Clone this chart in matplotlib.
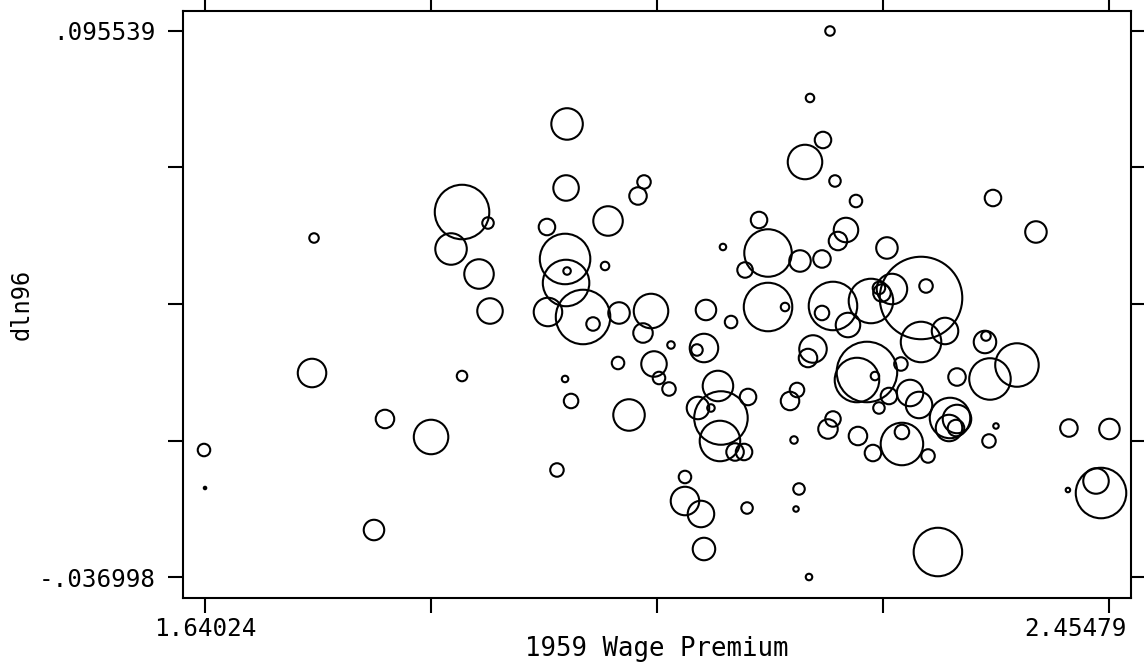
import numpy as np
import matplotlib
matplotlib.use('Agg')
import matplotlib.pyplot as plt
import matplotlib.transforms as mtransforms

# 1959 wage premium vs dln96, circles weighted by size
wage59 = [1.6393, 1.64024, 1.7384, 1.7366, 1.8023, 1.7924, 1.8438, 1.8717, 1.8951, 1.8618,
          1.8870, 1.8969, 1.8717, 1.9663, 1.9654, 2.0356, 2.0302, 2.0032, 1.9482, 1.9645,
          1.9663, 2.0005, 1.9654, 1.9491, 1.9807, 1.9897, 2.0131, 2.0419, 2.0347, 2.0122,
          2.0446, 2.0491, 1.9645, 1.9699, 2.0221, 1.9572, 2.2031, 2.1851, 2.1968, 2.1806,
          2.2076, 2.2265, 2.1392, 2.2175, 2.2103, 2.2544, 2.1067, 2.1473, 2.1266, 2.1761,
          2.1959, 2.2851, 2.2896, 2.2589, 2.3499, 2.3886, 2.0914, 2.1473, 2.1626, 2.2058,
          2.1959, 2.2400, 2.2472, 2.2499, 2.1140, 2.2193, 2.0599, 2.0896, 2.0833, 2.0581,
          2.1878, 2.1833, 2.2436, 2.2562, 2.2472, 2.1022, 2.1293, 2.0842, 2.0959, 2.1049,
          2.1040, 2.1176, 2.1257, 2.1734, 2.1671, 2.1707, 2.0725, 2.0725, 2.0869, 2.0896,
          2.1284, 2.1752, 2.1725, 2.1842, 2.2013, 2.2058, 2.2283, 2.2418, 2.2851, 2.3067,
          2.3427, 2.3436, 2.3715, 2.3472, 2.3175, 2.2670, 2.2752, 2.2833, 2.3112, 2.3175,
          2.3103, 2.3166, 2.2679, 2.2679, 2.2914, 2.3526, 2.3463, 2.4183, 2.45479, 2.4174,
          2.4427, 2.4472, 2.3003, 2.2364, 2.2274]
dln96 = [-0.00617, -0.01539, 0.04529, 0.01252, 0.00136, -0.02559, -0.00301, 0.05160, 0.04893, 0.04262,
         0.03655, 0.02757, 0.01179, 0.07297, 0.05743, 0.05889, 0.05549, 0.04942, 0.04796, 0.04020,
         0.03728, 0.03850, 0.03437, 0.02733, 0.02612, 0.02442, 0.02709, 0.02757, 0.02223, 0.01495,
         0.01471, 0.01131, 0.01107, 0.00573, 0.00233, -0.01102, 0.095539, 0.07928, 0.06908, 0.06374,
         0.05913, 0.05427, 0.04966, 0.04723, 0.04456, 0.04287, 0.04311, 0.04165, 0.03753, 0.03971,
         0.04020, 0.03073, 0.03364, 0.03291, 0.05500, 0.04675, 0.02782, 0.02854, 0.02854, 0.02879,
         0.02709, 0.03000, 0.03316, 0.03194, 0.02490, 0.02417, 0.01932, 0.01859, 0.01811, 0.00864,
         0.01835, 0.01616, 0.01179, 0.00694, 0.00403, 0.00937, 0.00670, 0.00403, 0.00403, 0.00160,
         -0.00398, -0.00665, -0.00665, 0.00840, 0.00573, -0.00374, -0.01272, -0.01855, -0.02170, -0.03020,
         -0.02025, -0.01563, -0.02049, -0.036998, -0.00107, 0.00136, -0.00277, -0.00690, 0.02005, 0.02272,
         0.02005, 0.02150, 0.01446, 0.01107, 0.01155, 0.01471, 0.00767, 0.00476, 0.00160, 0.00136,
         -0.00083, -0.00083, -0.00180, -0.00471, -0.00762, -0.00034, -0.00398, -0.00083, -0.00107, -0.01588,
         -0.01369, -0.01661, -0.03093, 0.01277, 0.01082]
weight = [196, 16, 121, 900, 400, 484, 1296, 3136, 169, 1089,
          961, 729, 144, 1089, 729, 225, 361, 961, 324, 2704,
          81, 100, 2304, 900, 3136, 225, 529, 1296, 441, 196,
          729, 196, 64, 256, 1089, 225, 121, 100, 324, 1296,
          169, 196, 324, 676, 400, 529, 64, 2401, 289, 529,
          361, 7056, 225, 1024, 324, 529, 484, 2500, 100, 2500,
          256, 2116, 196, 361, 196, 676, 81, 900, 169, 225,
          841, 400, 100, 324, 169, 1024, 324, 576, 81, 3025,
          1764, 361, 324, 256, 400, 81, 196, 900, 784, 576,
          169, 169, 49, 64, 441, 289, 400, 324, 1764, 784,
          576, 121, 2025, 1849, 361, 225, 784, 784, 1764, 900,
          784, 324, 256, 1936, 225, 49, 225, 361, 484, 36,
          729, 2704, 2500, 3844, 2116]

xtick_vals = np.linspace(1.64024, 2.45479, 5)
ytick_vals = np.linspace(-0.036998, 0.095539, 5)
xtick_lab = ['1.64024', '', '', '', '2.45479']
ytick_lab = ['-.036998', '', '', '', '.095539']

plt.rcParams['font.family'] = 'DejaVu Sans Mono'

fig = plt.figure(figsize=(11.44, 6.67), dpi=100)
ax = fig.add_axes([0.160, 0.1034, 0.8286, 0.8801])

w = np.array(weight, dtype=float)
sizes = (np.clip(np.sqrt(w) - 1.5, 2, None) * 0.72) ** 2
ax.scatter(wage59, dln96, s=sizes, facecolors='none', edgecolors='black', linewidths=1.5)

ax.set_xlim(1.62043, 2.47417)
ax.set_ylim(-0.04210, 0.10039)

ax.set_xticks(xtick_vals)
ax.set_xticklabels(xtick_lab)
ax.set_yticks(ytick_vals)
ax.set_yticklabels(ytick_lab)
ax.tick_params(axis='both', direction='out', length=11, width=1.5, labelsize=17.5,
               top=True, right=True, labeltop=False, labelright=False)
ax.tick_params(axis='y', pad=9)
ax.tick_params(axis='x', pad=3)
for sp in ax.spines.values():
    sp.set_linewidth(1.5)

# keep the last x label inside the figure, like the original
last = ax.get_xticklabels()[-1]
last.set_transform(last.get_transform() +
                   mtransforms.ScaledTranslation(-0.34, 0, fig.dpi_scale_trans))

ax.set_xlabel('1959 Wage Premium', fontsize=18.5)
ax.xaxis.set_label_coords(0.5, -0.064)
ax.set_ylabel('dln96', fontsize=17)
ax.yaxis.set_label_coords(-0.158, 0.5)

fig.savefig('out.png', dpi=100)
